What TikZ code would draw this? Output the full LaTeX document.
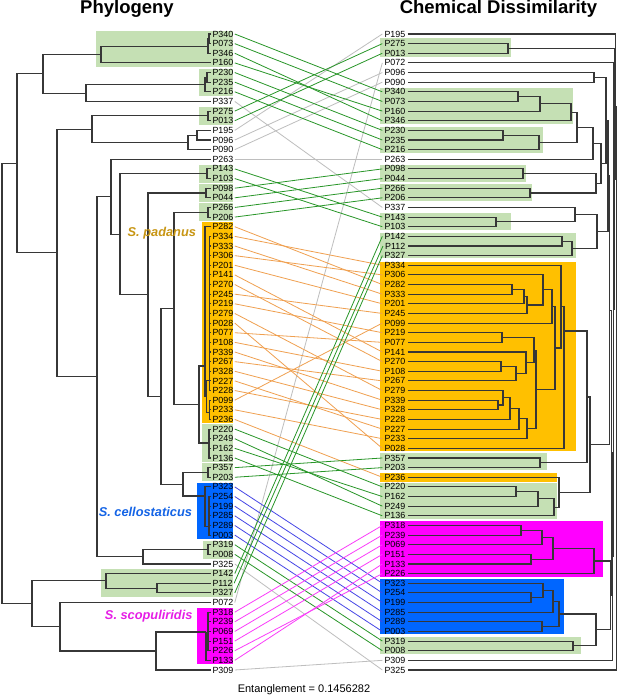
\documentclass[tikz,border=0pt]{standalone}
\usepackage{fontspec}
\setmainfont{Liberation Sans}
\usetikzlibrary{calc}
\definecolor{boxg}{RGB}{197,224,180}
\definecolor{boxo}{RGB}{255,192,0}
\definecolor{boxb}{RGB}{0,102,255}
\definecolor{boxm}{RGB}{255,0,255}
\definecolor{lng}{RGB}{40,150,40}
\definecolor{lno}{RGB}{240,160,80}
\definecolor{lnb}{RGB}{70,70,230}
\definecolor{lnm}{RGB}{250,60,250}
\definecolor{lnx}{RGB}{190,190,190}
\definecolor{tcol}{RGB}{55,55,55}
\definecolor{padc}{RGB}{200,150,20}
\definecolor{celc}{RGB}{20,100,230}
\definecolor{scoc}{RGB}{230,30,230}
\newcommand\jn[4]{\coordinate (tmpjn) at ($(#3)!.5!(#4)$);\coordinate (#1) at (#2,0 |- tmpjn);\draw[treeline] (#3) -| (#1) |- (#4);}
\newcommand\jny[5]{\coordinate (#1) at (#2,#3);\draw[treeline] (#4) -| (#1) |- (#5);}
\begin{document}
\begin{tikzpicture}[x=1pt,y=-1pt,
  treeline/.style={draw=tcol,line width=1.05pt},
  leafL/.style={anchor=west,inner xsep=1.3pt,inner ysep=0.5pt,font=\fontsize{8.9}{9}\selectfont},
  leafR/.style={anchor=east,inner xsep=2pt,inner ysep=0.5pt,font=\fontsize{8.9}{9}\selectfont},
  lkg/.style={draw=lng,line width=0.8pt},
  lko/.style={draw=lno,line width=0.8pt},
  lkb/.style={draw=lnb,line width=0.8pt},
  lkm/.style={draw=lnm,line width=0.8pt},
  lkx/.style={draw=lnx,line width=0.8pt},
  title/.style={font=\fontsize{18.5}{20}\selectfont\bfseries,anchor=base},
  spec/.style={font=\fontsize{12.8}{14}\selectfont\bfseries\itshape,anchor=base east}]
\useasboundingbox (0,0) rectangle (617,697);
\fill[white] (0,0) rectangle (617,697);
% left boxes
\fill[boxg] (96,31) rectangle (233,67);
\fill[boxg] (199,69) rectangle (233,96);
\fill[boxg] (199,107) rectangle (233,125);
\fill[boxg] (199,165) rectangle (233,183);
\fill[boxg] (199,184) rectangle (233,202);
\fill[boxg] (199,203) rectangle (233,221);
\fill[boxo] (202,222) rectangle (233,423);
\fill[boxg] (202,424) rectangle (233,462);
\fill[boxg] (202,463) rectangle (233,481);
\fill[boxb] (197,483) rectangle (233,539);
\fill[boxg] (203,541) rectangle (233,559);
\fill[boxg] (101,569) rectangle (233,597);
\fill[boxm] (197,608) rectangle (233,664);
% right boxes
\fill[boxg] (380,38) rectangle (511,57);
\fill[boxg] (380,88) rectangle (573,124);
\fill[boxg] (380,127) rectangle (543,153);
\fill[boxg] (380,165) rectangle (526,182);
\fill[boxg] (380,184) rectangle (532,201);
\fill[boxg] (380,213) rectangle (511,230);
\fill[boxg] (380,233) rectangle (576,258);
\fill[boxo] (380,262) rectangle (576,451);
\fill[boxg] (380,453) rectangle (547,470);
\fill[boxo] (380,473) rectangle (557,482);
\fill[boxg] (380,483) rectangle (557,519);
\fill[boxm] (380,521) rectangle (603,577);
\fill[boxb] (380,579) rectangle (564,634);
\fill[boxg] (380,637) rectangle (581,654);
% leaves
\foreach \nm [count=\i] in {P340,P073,P346,P160,P230,P235,P216,P337,P275,P013,P195,P096,P090,P263,P143,P103,P098,P044,P266,P206,P282,P334,P333,P306,P201,P141,P270,P245,P219,P279,P028,P077,P108,P339,P267,P328,P227,P228,P099,P233,P236,P220,P249,P162,P136,P357,P203,P323,P254,P199,P285,P289,P003,P319,P008,P325,P142,P112,P327,P072,P318,P239,P069,P151,P226,P133,P309}
  {\node[leafL] (L\i) at (211,{34+(\i-1)*9.636}) {\nm};}
\foreach \nm [count=\i] in {P195,P275,P013,P072,P096,P090,P340,P073,P160,P346,P230,P235,P216,P263,P098,P044,P266,P206,P337,P143,P103,P142,P112,P327,P334,P306,P282,P333,P201,P245,P099,P219,P077,P141,P270,P108,P267,P279,P339,P328,P228,P227,P233,P028,P357,P203,P236,P220,P162,P249,P136,P318,P239,P069,P151,P133,P226,P323,P254,P199,P285,P289,P003,P319,P008,P309,P325}
  {\node[leafR] (R\i) at (407.5,{34+(\i-1)*9.636}) {\nm};}
% left tree
\jn{a1}{209}{L1.west}{L2.west}
\jn{a2}{208}{a1}{L3.west}
\jn{a3}{101}{a2}{L4.west}
\jn{b1}{207}{L5.west}{L6.west}
\jn{b2}{205}{b1}{L7.west}
\jn{b3}{86}{b2}{L8.west}
\jn{c1}{43}{a3}{b3}
\jn{d1}{208}{L9.west}{L10.west}
\jn{e1}{197}{L11.west}{L12.west}
\jn{e2}{188}{e1}{L13.west}
\jn{d2}{92}{d1}{e2}
\jn{f1}{207}{L15.west}{L16.west}
\jn{g1}{206}{L17.west}{L18.west}
\jn{h1}{208}{L19.west}{L20.west}
\jn{pc23}{209.5}{L22.west}{L23.west}
\foreach \k [remember=\k as \prev (initially 23)] in {24,...,38} {\jn{pc\k}{209.5}{pc\prev}{L\k.west}}
\jn{pd40}{209.5}{L39.west}{L40.west}
\jn{pd41}{209.5}{pd40}{L41.west}
\jn{pe}{206.5}{pc38}{pd41}
\jny{pf}{205}{366}{L21.west}{pe}
\jn{r43}{209}{L42.west}{L43.west}
\jn{r44}{209}{r43}{L44.west}
\jny{r45}{209}{443}{r44}{L45.west}
\jn{s1}{199}{pf}{r45}
\jn{t1}{174}{h1}{s1}
\jn{u1}{208}{L46.west}{L47.west}
\jn{v50}{209}{L49.west}{L50.west}
\jn{v51}{209}{v50}{L51.west}
\jn{v52}{209}{v51}{L52.west}
\jn{v53}{209}{v52}{L53.west}
\jny{v2}{205}{496}{L48.west}{v53}
\jn{w1}{183}{u1}{v2}
\jn{t2}{161}{t1}{w1}
\jn{t3}{148}{g1}{t2}
\jn{t4}{120}{f1}{t3}
\jn{t5}{111}{L14.west}{t4}
\jn{x1}{208}{L54.west}{L55.west}
\jn{x2}{143}{x1}{L56.west}
\jn{t6}{97}{t5}{x2}
\jn{t7}{57}{d2}{t6}
\jn{t8}{17}{c1}{t7}
\jn{y1}{157}{L58.west}{L59.west}
\jn{y2}{106}{L57.west}{y1}
\jn{z62}{208}{L61.west}{L62.west}
\jn{z63}{208}{z62}{L63.west}
\jn{z64}{208}{z63}{L64.west}
\jn{z65}{208}{z64}{L65.west}
\jny{z66}{206}{632}{z65}{L66.west}
\jn{z3}{156}{z66}{L67.west}
\jn{z4}{60}{L60.west}{z3}
\jn{y3}{32}{y2}{z4}
\jn{lroot}{2}{t8}{y3}
% right tree
\jn{ra1}{508}{R2.east}{R3.east}
\jn{rb1}{594}{R5.east}{R6.east}
\jn{rc1}{518}{R7.east}{R8.east}
\jn{rc2}{540}{rc1}{R9.east}
\jn{rc3}{571}{rc2}{R10.east}
\jn{rd1}{503}{R11.east}{R12.east}
\jn{rd2}{539}{rd1}{R13.east}
\jn{re1}{577}{rc3}{rd2}
\jn{re2}{593}{re1}{R14.east}
\jn{rf1}{523}{R15.east}{R16.east}
\jn{rf2}{530}{R17.east}{R18.east}
\jn{rf3}{596}{rf1}{rf2}
\jn{rg}{601}{re2}{rf3}
\jn{rh}{606}{rb1}{rg}
\jn{ri1}{496}{R20.east}{R21.east}
\jn{ri2}{575}{R19.east}{ri1}
\jn{rj1}{562}{R22.east}{R23.east}
\jn{rj2}{572}{rj1}{R24.east}
\jn{rk}{597}{ri2}{rj2}
\jn{rl}{608}{rh}{rk}
\jn{ro1}{512}{R27.east}{R28.east}
\jn{ro2}{524}{ro1}{R29.east}
\jn{ro3}{527}{ro2}{R30.east}
\jn{ro4}{543}{R26.east}{ro3}
\jn{ro5}{552}{ro4}{R31.east}
\jn{rp1}{502}{R32.east}{R33.east}
\jn{rp2}{501}{R35.east}{R36.east}
\jn{rp3}{516}{rp2}{R37.east}
\jn{rp4}{526}{R34.east}{rp3}
\jn{rp5}{534}{rp1}{rp4}
\jn{rq1}{498}{R39.east}{R40.east}
\jn{rq2}{503}{R38.east}{rq1}
\jn{rq3}{510}{rq2}{R41.east}
\jn{rq4}{519}{rq3}{R42.east}
\jn{rq5}{527}{rq4}{R43.east}
\jn{rr1}{536}{rp5}{rq5}
\jn{rr2}{555}{ro5}{rr1}
\jn{rr3}{561}{R25.east}{rr2}
\jny{rr4}{564}{331}{rr3}{R44.east}
\jn{rs1}{540}{R45.east}{R46.east}
\jny{rs2}{587}{397}{rr4}{rs1}
\jn{rt1}{516}{R48.east}{R49.east}
\jn{rt2}{538}{rt1}{R50.east}
\jn{rt3}{554}{rt2}{R51.east}
\jn{rt4}{559}{R47.east}{rt3}
\jn{ru}{590}{rs2}{rt4}
\jn{rm1}{521}{R52.east}{R53.east}
\jn{rm2}{542}{rm1}{R54.east}
\jn{rm3}{531}{R55.east}{R56.east}
\jn{rm4}{553}{rm2}{rm3}
\jn{rm5}{594}{rm4}{R57.east}
\jn{rv1}{531}{R59.east}{R60.east}
\jn{rv2}{543}{R58.east}{rv1}
\jn{rv3}{553}{rv2}{R61.east}
\jn{rv4}{542}{R62.east}{R63.east}
\jn{rv5}{559}{rv3}{rv4}
\jn{rw1}{573}{R64.east}{R65.east}
\jn{rw2}{596}{rv5}{rw1}
\jn{rx}{610.5}{rm5}{rw2}
\jn{ry1}{609.5}{rl}{ru}
\jn{ry2}{611.5}{ry1}{rx}
\jn{ry3}{612.5}{ry2}{R66.east}
\jn{ry4}{613.5}{R4.east}{ry3}
\jn{ry5}{614.5}{ra1}{ry4}
\jn{ry6}{615.5}{R1.east}{ry5}
\jn{ry7}{616.3}{ry6}{R67.east}
% connectors
\foreach \a/\b/\c in {8/19/lkx,11/1/lkx,12/5/lkx,13/6/lkx,14/14/lkx,56/67/lkx,60/4/lkx,67/66/lkx,
 1/7/lkg,2/8/lkg,3/10/lkg,4/9/lkg,5/11/lkg,6/12/lkg,7/13/lkg,9/2/lkg,10/3/lkg,15/20/lkg,16/21/lkg,17/15/lkg,18/16/lkg,19/17/lkg,20/18/lkg,
 21/27/lko,22/25/lko,23/28/lko,24/26/lko,25/29/lko,26/34/lko,27/35/lko,28/30/lko,29/32/lko,30/38/lko,31/44/lko,32/33/lko,33/36/lko,34/39/lko,35/37/lko,36/40/lko,37/42/lko,38/41/lko,39/31/lko,40/43/lko,41/47/lko,
 42/48/lkg,43/50/lkg,44/49/lkg,45/51/lkg,46/45/lkg,47/46/lkg,
 48/58/lkb,49/59/lkb,50/60/lkb,51/61/lkb,52/62/lkb,53/63/lkb,
 54/64/lkg,55/65/lkg,57/22/lkg,58/23/lkg,59/24/lkg,
 61/52/lkm,62/53/lkm,63/54/lkm,64/55/lkm,65/57/lkm,66/56/lkm}
 {\draw[\c] (L\a.east) -- (R\b.west);}
% titles
\node[title] (tphy) at (127,13.5) {Phylogeny};
\node[title] (tchem) at (498.5,13.5) {Chemical Dissimilarity};
\node[font=\fontsize{11}{13}\selectfont,anchor=base] (tent) at (304,692) {Entanglement = 0.1456282};
\node[spec,text=padc] (spad) at (199.5,236.5) {S. padanus};
\node[spec,text=celc] (scel) at (195.5,516.5) {S. cellostaticus};
\node[spec,text=scoc] (ssco) at (196,619.5) {S. scopuliridis};
\end{tikzpicture}
\end{document}
